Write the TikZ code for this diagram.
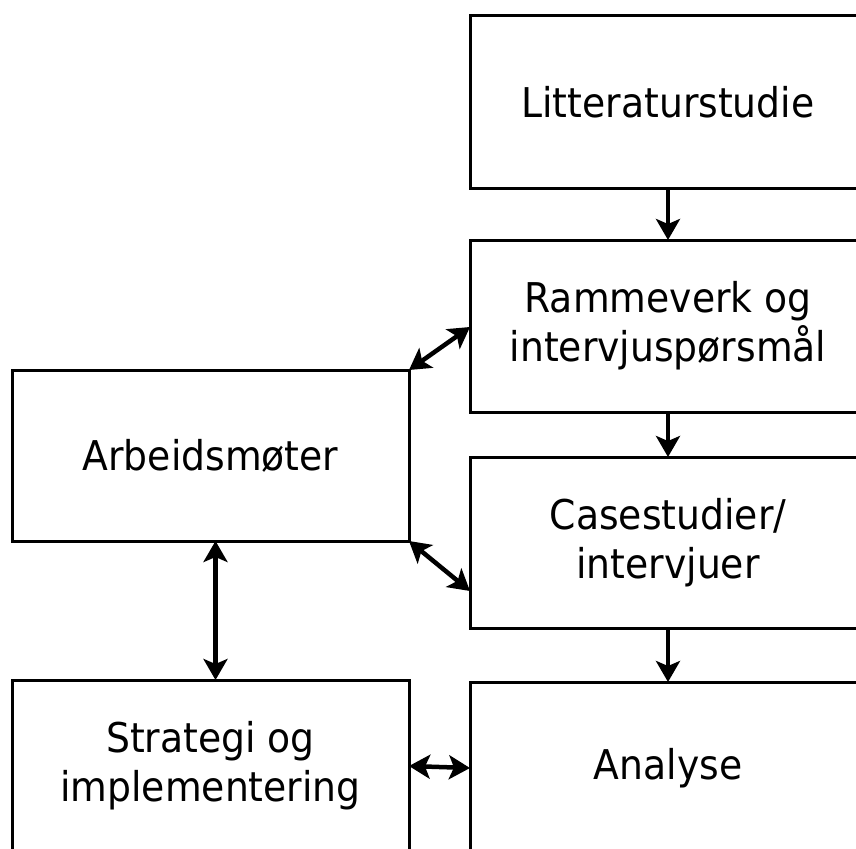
\documentclass[tikz,border=0pt]{standalone}
\usepackage{fontspec}
\setmainfont{DejaVu Sans}[FakeStretch=0.92]
\usetikzlibrary{arrows.meta,calc}
\tikzset{
  bighead/.tip={Stealth[length=21pt,width=24pt,inset=5pt]},
  stagebox/.style={draw=black, line width=3pt, minimum width=396pt, minimum height=172pt,
    align=center, inner sep=0pt, outer sep=0pt,
    font=\fontsize{41}{49}\selectfont},
  flow/.style={line width=4.5pt, -bighead},
  twoway/.style={line width=4.5pt, bighead-bighead}
}
\begin{document}
\begin{tikzpicture}[x=1pt,y=-1pt]
  \useasboundingbox (0,0) rectangle (856,848);
  % right column: research process
  \node[stagebox] (lit) at (668,102) {Litteraturstudie};
  \node[stagebox] (ram) at (668,326) {Rammeverk og\\intervjuspørsmål};
  \node[stagebox, minimum height=171pt] (case) at (668,542.5) {Casestudier/\\intervjuer};
  \node[stagebox] (ana) at (668,768) {Analyse};
  % left column
  \node[stagebox, minimum width=397pt, minimum height=171pt] (arb) at (210.5,455.5) {Arbeidsmøter};
  \node[stagebox, minimum width=397pt] (str) at (210.5,766) {Strategi og\\implementering};
  % connectors
  \draw[flow] (lit.south) -- (ram.north);
  \draw[flow] (ram.south) -- (case.north);
  \draw[flow] (case.south) -- (ana.north);
  \coordinate (ramin) at ($(ram.west)+(0,1)$);
  \coordinate (casein) at ($(case.south west)+(0,-37)$);
  \draw[twoway] (arb.north east) -- (ramin);
  \draw[twoway] (arb.south east) -- (casein);
  \draw[twoway] ([xshift=5pt]arb.south) -- ([xshift=5pt]str.north);
  \draw[twoway] (str.east) -- (ana.west);
\end{tikzpicture}
\end{document}
